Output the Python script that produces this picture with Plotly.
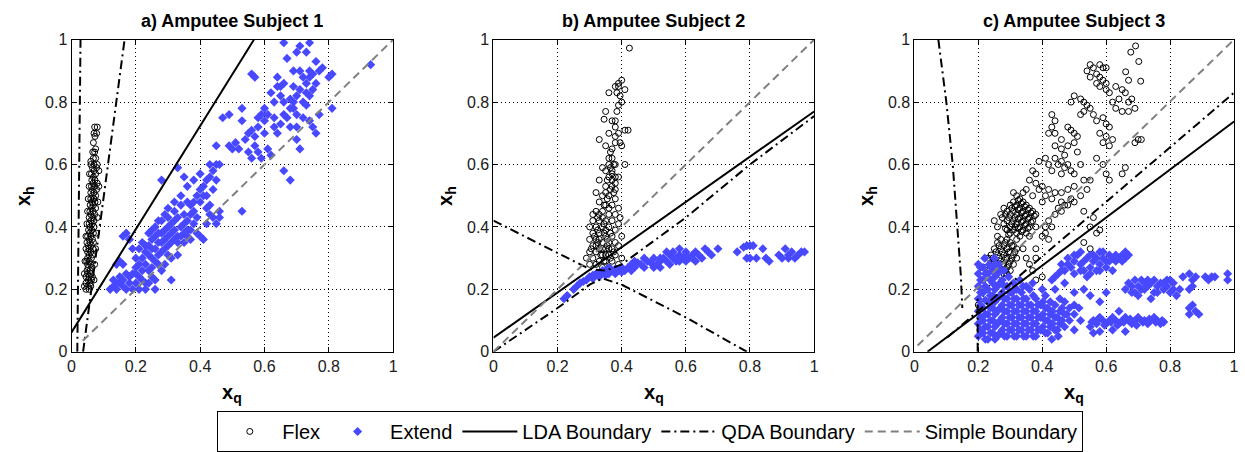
import plotly.graph_objects as go

# ------------------------------------------------------------------ data
titles = ["a) Amputee Subject 1", "b) Amputee Subject 2", "c) Amputee Subject 3"]
tick_vals = [0, 0.2, 0.4, 0.6, 0.8, 1]
tick_text = ["0", "0.2", "0.4", "0.6", "0.8", "1"]
series_names = ["Flex", "Extend", "LDA Boundary", "QDA Boundary", "Simple Boundary"]

# ---- subject 1
flex_a = [(0.045,0.20),(0.055,0.20),(0.05,0.21),(0.06,0.21),(0.045,0.22),(0.058,0.22),(0.052,0.23),(0.062,0.23),
          (0.045,0.24),(0.055,0.24),(0.065,0.24),(0.05,0.25),(0.06,0.25),(0.048,0.26),(0.058,0.26),(0.052,0.27),
          (0.064,0.27),(0.05,0.28),(0.06,0.28),(0.055,0.29),(0.047,0.29),(0.05,0.30),(0.062,0.30),(0.055,0.31),
          (0.065,0.31),(0.05,0.32),(0.06,0.32),(0.055,0.33),(0.067,0.33),(0.052,0.34),(0.062,0.34),(0.048,0.35),
          (0.058,0.35),(0.068,0.35),(0.055,0.36),(0.065,0.36),(0.05,0.37),(0.06,0.37),(0.056,0.38),(0.068,0.38),
          (0.053,0.39),(0.063,0.39),(0.058,0.40),(0.07,0.40),(0.055,0.41),(0.065,0.41),(0.06,0.42),(0.07,0.42),
          (0.055,0.43),(0.066,0.43),(0.06,0.44),(0.072,0.44),(0.057,0.45),(0.067,0.45),(0.062,0.46),(0.075,0.46),
          (0.058,0.47),(0.068,0.47),(0.063,0.48),(0.073,0.48),(0.06,0.49),(0.07,0.49),(0.065,0.50),(0.075,0.50),
          (0.06,0.51),(0.07,0.51),(0.065,0.52),(0.078,0.52),(0.062,0.53),(0.072,0.53),(0.067,0.54),(0.08,0.54),
          (0.063,0.55),(0.073,0.55),(0.068,0.56),(0.062,0.57),(0.075,0.57),(0.07,0.58),(0.065,0.59),(0.078,0.59),
          (0.07,0.60),(0.068,0.62),(0.075,0.62),(0.066,0.64),(0.072,0.64),(0.068,0.67),(0.073,0.69),(0.07,0.70),
          (0.078,0.70),(0.072,0.72),(0.08,0.72),
          (0.04,0.21),(0.04,0.25),(0.042,0.29),(0.045,0.33),(0.045,0.37),(0.048,0.41),(0.05,0.45),(0.052,0.49),
          (0.055,0.53),(0.056,0.57),(0.07,0.23),(0.072,0.28),(0.075,0.33),(0.077,0.38),(0.08,0.43),(0.082,0.48),
          (0.085,0.53),(0.085,0.58),(0.06,0.6),(0.08,0.6),(0.075,0.65),(0.06,0.61)]
extend_a = [(0.12,0.2),(0.13,0.21),(0.14,0.2),(0.15,0.22),(0.16,0.21),(0.17,0.2),(0.15,0.24),(0.13,0.23),(0.18,0.22),
            (0.17,0.25),(0.16,0.28),(0.19,0.25),(0.2,0.27),(0.21,0.24),(0.22,0.26),(0.2,0.3),(0.22,0.3),(0.23,0.28),
            (0.24,0.31),(0.21,0.33),(0.23,0.34),(0.25,0.3),(0.26,0.33),(0.25,0.36),(0.27,0.35),(0.28,0.32),(0.24,0.38),
            (0.26,0.4),(0.28,0.38),(0.29,0.36),(0.3,0.34),(0.3,0.4),(0.27,0.42),(0.31,0.38),(0.29,0.44),(0.32,0.42),
            (0.33,0.37),(0.34,0.4),(0.3,0.46),(0.32,0.48),(0.35,0.44),(0.36,0.42),(0.37,0.39),(0.34,0.5),(0.36,0.53),
            (0.37,0.47),(0.38,0.45),(0.39,0.5),(0.4,0.48),(0.41,0.53),(0.42,0.5),(0.43,0.56),(0.44,0.52),(0.4,0.57),
            (0.45,0.55),(0.46,0.6),(0.46,0.45),(0.45,0.41),(0.42,0.46),(0.4,0.37),(0.41,0.36),(0.35,0.56),(0.38,0.55),
            (0.33,0.59),(0.28,0.55),(0.17,0.38),(0.18,0.36),(0.16,0.37),(0.19,0.33),(0.14,0.28),(0.15,0.29),(0.23,0.22),
            (0.26,0.2),(0.26,0.23),(0.31,0.23),(0.28,0.26),(0.27,0.28),(0.31,0.3),(0.33,0.31),(0.35,0.35),(0.36,0.37),
            (0.23,0.2),(0.2,0.22),(0.21,0.2),(0.19,0.2),(0.38,0.41),(0.43,0.47),(0.44,0.43),(0.46,0.43),
            (0.2,0.25),(0.21,0.28),(0.22,0.23),(0.23,0.32),(0.24,0.26),(0.24,0.34),(0.25,0.27),(0.25,0.33),(0.26,0.29),
            (0.26,0.37),(0.27,0.31),(0.27,0.38),(0.28,0.35),(0.28,0.42),(0.29,0.33),(0.29,0.39),(0.3,0.37),(0.3,0.43),
            (0.31,0.35),(0.31,0.41),(0.32,0.39),(0.32,0.45),(0.33,0.35),(0.33,0.43),(0.34,0.37),(0.34,0.47),(0.35,0.41),
            (0.36,0.48),(0.37,0.44),(0.38,0.48),(0.39,0.43),(0.4,0.52),(0.41,0.5),(0.42,0.55),(0.44,0.58),(0.36,0.39),
            (0.22,0.35),(0.25,0.39),(0.18,0.24),(0.16,0.23),(0.14,0.22),(0.3,0.31),(0.29,0.28),(0.32,0.36),(0.35,0.38),
            (0.39,0.38),(0.43,0.44),(0.42,0.41),(0.37,0.36),(0.25,0.24),(0.24,0.22),
            (0.49,0.66),(0.51,0.67),(0.52,0.65),(0.53,0.45),(0.55,0.7),(0.56,0.71),(0.57,0.69),(0.55,0.64),(0.58,0.72),
            (0.59,0.76),(0.6,0.78),(0.61,0.65),(0.62,0.63),(0.63,0.72),(0.64,0.7),(0.62,0.83),(0.63,0.8),(0.64,0.85),
            (0.65,0.82),(0.66,0.8),(0.67,0.75),(0.68,0.72),(0.66,0.58),(0.68,0.55),(0.7,0.68),(0.71,0.65),(0.69,0.78),
            (0.7,0.76),(0.72,0.8),(0.73,0.79),(0.74,0.74),(0.75,0.72),(0.76,0.7),(0.72,0.88),(0.73,0.86),(0.74,0.9),
            (0.75,0.89),(0.76,0.93),(0.77,0.9),(0.78,0.91),(0.8,0.88),(0.81,0.89),(0.81,0.78),(0.77,0.76),(0.67,0.94),
            (0.66,0.99),(0.7,0.96),(0.71,0.98),(0.73,0.96),(0.74,0.99),(0.65,0.85),(0.56,0.89),(0.57,0.88),(0.53,0.78),
            (0.49,0.76),(0.47,0.75),(0.53,0.74),(0.69,0.9),(0.7,0.82),(0.71,0.84),(0.93,0.92),(0.6,0.7),(0.5,0.65),
            (0.58,0.64),(0.56,0.62),(0.59,0.62),(0.74,0.82),(0.74,0.88),(0.68,0.81),(0.69,0.8),(0.58,0.75),(0.45,0.66),
            (0.43,0.6),(0.45,0.6),
            (0.6,0.74),(0.61,0.76),(0.63,0.75),(0.65,0.73),(0.66,0.76),(0.68,0.78),(0.7,0.72),(0.72,0.75),(0.73,0.83),
            (0.75,0.84),(0.76,0.86),(0.64,0.88),(0.66,0.86),(0.69,0.85),(0.71,0.9),(0.57,0.66),(0.54,0.68)]
lda_a_x = [0.0, 0.567]
lda_a_y = [0.062, 1.0]
qda_a_x = [0.018, 0.028, None, 0.036, 0.165]
qda_a_y = [0.0, 1.0, None, 0.0, 1.0]
simple_a_x = [0.035, 1.0]
simple_a_y = [0.035, 1.0]

# ---- subject 2
flex_b = [(0.424,0.973),(0.4,0.87),(0.39,0.85),(0.38,0.85),(0.41,0.84),(0.36,0.83),(0.395,0.82),(0.4,0.8),(0.39,0.79),
          (0.35,0.77),(0.345,0.745),(0.37,0.74),(0.38,0.72),(0.41,0.71),(0.42,0.71),(0.39,0.7),(0.38,0.69),(0.33,0.68),
          (0.395,0.67),(0.4,0.66),(0.35,0.66),(0.365,0.64),(0.37,0.62),(0.36,0.6),(0.38,0.6),(0.41,0.6),(0.34,0.59),
          (0.35,0.58),(0.37,0.57),(0.36,0.56),(0.38,0.56),(0.33,0.55),(0.35,0.53),(0.37,0.53),(0.38,0.52),(0.32,0.51),
          (0.34,0.5),(0.36,0.5),(0.38,0.49),(0.33,0.48),(0.35,0.47),(0.37,0.47),(0.39,0.46),(0.31,0.44),(0.32,0.45),
          (0.34,0.45),(0.36,0.44),(0.38,0.44),(0.31,0.42),(0.33,0.42),(0.35,0.42),(0.37,0.42),(0.39,0.41),(0.3,0.4),
          (0.32,0.4),(0.34,0.4),(0.36,0.4),(0.38,0.39),(0.31,0.38),(0.33,0.38),(0.35,0.37),(0.37,0.37),(0.3,0.36),
          (0.32,0.36),(0.34,0.35),(0.36,0.35),(0.38,0.35),(0.31,0.34),(0.33,0.33),(0.35,0.33),(0.37,0.33),(0.3,0.32),
          (0.32,0.32),(0.34,0.31),(0.36,0.31),(0.38,0.31),(0.29,0.3),(0.31,0.3),(0.33,0.29),(0.35,0.29),(0.37,0.29),
          (0.3,0.28),(0.32,0.28),(0.34,0.27),(0.36,0.27),(0.39,0.28),(0.4,0.3),(0.39,0.34),(0.4,0.37),(0.395,0.43),
          (0.38,0.54),(0.39,0.56),(0.37,0.58),(0.36,0.62),(0.37,0.65),(0.38,0.67),(0.36,0.7),(0.38,0.74),(0.385,0.77),
          (0.385,0.83),(0.39,0.86),(0.37,0.55),(0.35,0.51),(0.33,0.44),(0.34,0.43),(0.36,0.46),(0.345,0.38),
          (0.355,0.36),(0.33,0.36),(0.35,0.39),(0.325,0.39),(0.345,0.41),(0.365,0.38),(0.34,0.33),(0.36,0.33),
          (0.32,0.34),(0.35,0.31),
          (0.315,0.37),(0.325,0.35),(0.335,0.31),(0.345,0.29),(0.355,0.34),(0.365,0.3),(0.375,0.32),(0.305,0.33),
          (0.325,0.43),(0.345,0.47),(0.355,0.49),(0.365,0.52),(0.375,0.51),(0.355,0.55),(0.365,0.59),(0.375,0.6)]
extend_b = [(0.22,0.17),(0.23,0.18),(0.25,0.2),(0.26,0.21),(0.27,0.22),(0.28,0.225),(0.29,0.23),(0.3,0.24),(0.31,0.245),
            (0.32,0.25),(0.33,0.25),(0.34,0.26),(0.35,0.26),(0.36,0.25),(0.37,0.26),(0.38,0.265),(0.4,0.27),(0.42,0.27),
            (0.41,0.26),(0.43,0.28),(0.44,0.27),(0.45,0.285),(0.46,0.28),(0.47,0.27),(0.48,0.29),(0.49,0.285),(0.5,0.3),
            (0.51,0.28),(0.52,0.29),(0.53,0.3),(0.54,0.29),(0.55,0.31),(0.56,0.3),(0.57,0.29),(0.58,0.31),(0.59,0.3),
            (0.6,0.32),(0.61,0.3),(0.62,0.31),(0.63,0.32),(0.64,0.31),(0.66,0.33),(0.67,0.32),(0.7,0.33),(0.5,0.27),
            (0.52,0.27),(0.55,0.28),(0.58,0.29),(0.6,0.29),(0.56,0.32),(0.6,0.31),(0.62,0.3),(0.65,0.3),(0.47,0.3),
            (0.43,0.26),(0.39,0.26),(0.36,0.27),(0.31,0.235),(0.33,0.24),(0.35,0.245),(0.38,0.25),(0.4,0.255),(0.44,0.29),
            (0.52,0.3),(0.54,0.32),(0.58,0.33),(0.57,0.3),(0.63,0.29),(0.68,0.31),
            (0.76,0.32),(0.78,0.335),(0.79,0.34),(0.8,0.34),(0.81,0.34),(0.82,0.3),(0.79,0.3),(0.84,0.33),(0.85,0.3),
            (0.86,0.29),(0.9,0.3),(0.91,0.33),(0.92,0.31),(0.93,0.32),(0.94,0.3),(0.95,0.31),(0.96,0.32),(0.97,0.32),
            (0.89,0.31),(0.92,0.3),(0.8,0.3)]
lda_b_x = [0.0, 1.0]
lda_b_y = [0.045, 0.77]
qda_b_x = [0.0, 0.2, 0.3, 0.34, 0.4, 0.6, 0.79, None, 0.0, 0.2, 0.3, 0.35, 0.4, 0.6, 0.8, 1.0]
qda_b_y = [0.0, 0.14, 0.215, 0.235, 0.215, 0.11, 0.0, None, 0.42, 0.315, 0.265, 0.26, 0.28, 0.43, 0.6, 0.755]
simple_b_x = [0.0, 1.0]
simple_b_y = [0.0, 1.0]

# ---- subject 3
flex_c = [(0.692,0.98),(0.677,0.96),(0.702,0.93),(0.708,0.867),(0.661,0.897),(0.67,0.87),
          (0.55,0.92),(0.56,0.91),(0.58,0.92),(0.59,0.91),(0.6,0.91),(0.57,0.89),(0.58,0.88),(0.59,0.87),(0.6,0.86),
          (0.54,0.9),(0.55,0.88),(0.57,0.86),(0.58,0.85),(0.6,0.84),
          (0.5,0.82),(0.52,0.81),(0.53,0.8),(0.54,0.79),(0.53,0.77),(0.55,0.78),(0.56,0.76),(0.52,0.76),(0.49,0.8),
          (0.63,0.85),(0.65,0.84),(0.66,0.83),(0.64,0.81),(0.67,0.8),(0.68,0.81),(0.62,0.8),(0.63,0.78),(0.65,0.77),
          (0.67,0.77),(0.61,0.83),(0.69,0.78),
          (0.59,0.75),(0.6,0.73),(0.61,0.72),(0.58,0.7),(0.6,0.69),(0.62,0.68),(0.59,0.67),(0.61,0.66),(0.57,0.74),
          (0.7,0.68),(0.71,0.68),(0.69,0.67),
          (0.43,0.76),(0.44,0.74),(0.43,0.72),(0.44,0.7),(0.46,0.68),(0.48,0.72),(0.49,0.71),(0.5,0.7),(0.51,0.69),
          (0.5,0.67),(0.46,0.65),(0.48,0.66),(0.47,0.63),(0.51,0.64),(0.44,0.66),(0.42,0.7),
          (0.39,0.61),(0.41,0.62),(0.42,0.6),(0.44,0.62),(0.45,0.6),(0.46,0.61),(0.47,0.59),(0.48,0.6),(0.49,0.58),
          (0.5,0.57),(0.46,0.57),(0.43,0.58),(0.52,0.6),(0.53,0.55),
          (0.37,0.58),(0.38,0.57),(0.36,0.55),(0.38,0.54),(0.39,0.52),(0.4,0.53),(0.41,0.5),(0.42,0.52),(0.35,0.52),
          (0.37,0.5),(0.4,0.48),(0.43,0.49),(0.44,0.51),(0.46,0.51),(0.48,0.52),(0.49,0.49),(0.5,0.48),
          (0.27,0.44),(0.28,0.46),(0.29,0.45),(0.29,0.42),(0.3,0.47),(0.3,0.44),(0.3,0.4),(0.31,0.48),(0.31,0.45),
          (0.31,0.42),(0.31,0.39),(0.32,0.5),(0.32,0.47),(0.32,0.44),(0.32,0.41),(0.33,0.49),(0.33,0.46),(0.33,0.43),
          (0.33,0.4),(0.34,0.48),(0.34,0.45),(0.34,0.42),(0.34,0.39),(0.35,0.47),(0.35,0.44),(0.35,0.41),(0.36,0.46),
          (0.36,0.43),(0.36,0.4),(0.37,0.45),(0.37,0.42),(0.28,0.41),(0.29,0.39),(0.3,0.38),(0.32,0.38),(0.26,0.4),
          (0.25,0.42),(0.35,0.38),(0.36,0.37),(0.33,0.37),(0.38,0.44),(0.38,0.4),(0.31,0.51),(0.34,0.51),
          (0.275,0.43),(0.285,0.44),(0.295,0.43),(0.305,0.46),(0.305,0.41),(0.315,0.465),(0.315,0.43),(0.315,0.4),
          (0.325,0.485),(0.325,0.455),(0.325,0.425),(0.325,0.395),(0.335,0.475),(0.335,0.445),(0.335,0.415),
          (0.335,0.385),(0.345,0.465),(0.345,0.435),(0.345,0.405),(0.355,0.455),(0.355,0.425),(0.355,0.395),
          (0.365,0.445),(0.365,0.415),(0.375,0.435),(0.285,0.395),(0.295,0.375),
          (0.24,0.31),(0.25,0.33),(0.25,0.29),(0.26,0.35),(0.26,0.31),(0.26,0.27),(0.27,0.36),(0.27,0.33),(0.27,0.29),
          (0.27,0.26),(0.28,0.34),(0.28,0.31),(0.28,0.28),(0.29,0.36),(0.29,0.33),(0.29,0.3),(0.29,0.27),(0.3,0.35),
          (0.3,0.32),(0.3,0.29),(0.31,0.34),(0.31,0.31),(0.31,0.28),(0.32,0.33),(0.32,0.3),(0.28,0.25),(0.3,0.26),
          (0.24,0.28),(0.23,0.3),(0.22,0.27),(0.26,0.37),(0.32,0.36),
          (0.245,0.3),(0.255,0.32),(0.255,0.27),(0.265,0.34),(0.265,0.3),(0.275,0.32),(0.275,0.28),(0.285,0.35),
          (0.285,0.3),(0.285,0.26),(0.295,0.32),(0.295,0.28),(0.305,0.34),(0.305,0.3),(0.315,0.32),(0.27,0.245),
          (0.29,0.25),
          (0.34,0.33),(0.35,0.3),(0.36,0.28),(0.37,0.26),(0.38,0.3),(0.38,0.23),(0.4,0.24),(0.38,0.33),(0.4,0.37),
          (0.41,0.38),(0.42,0.36),(0.41,0.4),(0.42,0.42),(0.44,0.44),(0.43,0.4),(0.45,0.46),(0.46,0.45),(0.47,0.47),
          (0.48,0.47),(0.52,0.5),(0.54,0.52),(0.55,0.55),(0.56,0.43),(0.57,0.38),(0.58,0.39),(0.55,0.4),(0.53,0.35),
          (0.55,0.33),(0.6,0.57),(0.61,0.55),(0.65,0.57),(0.66,0.59),(0.59,0.6),(0.57,0.62),(0.53,0.45),(0.5,0.53),
          (0.46,0.48),(0.2,0.15),(0.21,0.17),(0.22,0.2),(0.21,0.23),(0.23,0.22)]
extend_c = [(0.2,0.05),(0.2,0.09),(0.2,0.13),(0.2,0.17),(0.2,0.21),(0.2,0.25),(0.2,0.28),
            (0.215,0.06),(0.215,0.1),(0.215,0.14),(0.215,0.19),(0.215,0.23),(0.215,0.27),(0.22,0.3),
            (0.23,0.04),(0.23,0.08),(0.23,0.12),(0.23,0.16),(0.23,0.2),(0.23,0.25),(0.235,0.28),
            (0.245,0.06),(0.245,0.1),(0.245,0.14),(0.245,0.18),(0.245,0.22),(0.245,0.26),(0.25,0.3),
            (0.26,0.05),(0.26,0.09),(0.26,0.13),(0.26,0.17),(0.26,0.21),(0.26,0.25),(0.265,0.28),
            (0.275,0.07),(0.275,0.11),(0.275,0.15),(0.275,0.19),(0.275,0.23),(0.28,0.26),
            (0.29,0.05),(0.29,0.09),(0.29,0.13),(0.29,0.17),(0.29,0.21),(0.295,0.24),
            (0.305,0.07),(0.305,0.11),(0.305,0.15),(0.305,0.19),
            (0.207,0.07),(0.207,0.11),(0.207,0.15),(0.207,0.19),(0.207,0.23),(0.207,0.27),(0.222,0.04),(0.222,0.08),
            (0.222,0.12),(0.222,0.165),(0.222,0.21),(0.222,0.25),(0.238,0.06),(0.238,0.1),(0.238,0.14),(0.238,0.18),
            (0.238,0.23),(0.24,0.27),(0.252,0.04),(0.252,0.08),(0.252,0.12),(0.252,0.16),(0.252,0.2),(0.252,0.24),
            (0.255,0.28),(0.268,0.06),(0.268,0.1),(0.268,0.14),(0.268,0.18),(0.268,0.22),(0.27,0.26),(0.282,0.05),
            (0.282,0.09),(0.282,0.13),(0.282,0.17),(0.282,0.21),(0.298,0.07),(0.298,0.11),(0.298,0.15),(0.298,0.19),
            (0.312,0.05),(0.312,0.09),(0.312,0.13),(0.312,0.17),(0.327,0.07),(0.327,0.11),(0.327,0.15),(0.342,0.05),
            (0.342,0.09),(0.342,0.13),(0.342,0.17),(0.357,0.07),(0.357,0.11),(0.357,0.15),(0.372,0.05),(0.372,0.09),
            (0.372,0.13),(0.372,0.18),(0.387,0.07),(0.387,0.11),(0.387,0.15),(0.402,0.08),(0.402,0.12),(0.402,0.16),
            (0.417,0.06),(0.417,0.1),(0.417,0.14),(0.432,0.09),(0.432,0.13),(0.447,0.07),(0.447,0.11),(0.462,0.1),
            (0.462,0.14),(0.477,0.12),(0.31,0.22),(0.32,0.2),(0.35,0.21),
            (0.32,0.05),(0.32,0.09),(0.32,0.13),(0.32,0.17),(0.335,0.07),(0.335,0.11),(0.335,0.15),(0.335,0.19),
            (0.35,0.05),(0.35,0.09),(0.35,0.13),(0.35,0.17),(0.365,0.07),(0.365,0.11),(0.365,0.15),(0.38,0.05),
            (0.38,0.09),(0.38,0.13),(0.38,0.17),(0.395,0.07),(0.395,0.11),(0.395,0.15),(0.41,0.06),(0.41,0.1),
            (0.41,0.14),(0.41,0.18),(0.425,0.08),(0.425,0.12),(0.425,0.16),(0.44,0.07),(0.44,0.11),(0.44,0.15),
            (0.455,0.09),(0.455,0.13),(0.455,0.17),(0.47,0.08),(0.47,0.12),(0.47,0.16),(0.485,0.1),(0.485,0.14),
            (0.5,0.12),(0.5,0.15),(0.515,0.14),(0.34,0.21),(0.36,0.2),(0.4,0.2),(0.37,0.22),(0.33,0.23),(0.45,0.05),
            (0.5,0.07),(0.52,0.1),(0.43,0.04),
            (0.43,0.23),(0.45,0.25),(0.46,0.28),(0.47,0.26),(0.48,0.3),(0.49,0.27),(0.5,0.29),(0.5,0.25),(0.51,0.31),
            (0.52,0.28),(0.53,0.26),(0.54,0.3),(0.55,0.31),(0.55,0.27),(0.56,0.29),(0.57,0.3),(0.58,0.28),(0.59,0.3),
            (0.6,0.29),(0.61,0.31),(0.62,0.3),(0.63,0.29),(0.64,0.3),(0.65,0.31),(0.66,0.32),(0.67,0.31),(0.57,0.26),
            (0.6,0.27),(0.62,0.26),(0.54,0.24),(0.47,0.22),(0.52,0.32),(0.58,0.32),
            (0.44,0.24),(0.46,0.26),(0.48,0.28),(0.5,0.31),(0.53,0.29),(0.56,0.31),(0.59,0.32),(0.61,0.29),(0.63,0.31),
            (0.65,0.29),(0.66,0.3),(0.52,0.26),(0.55,0.25),(0.58,0.26),
            (0.66,0.2),(0.67,0.22),(0.68,0.21),(0.69,0.19),(0.7,0.21),(0.71,0.23),(0.72,0.22),(0.72,0.2),(0.73,0.21),
            (0.74,0.22),(0.75,0.19),(0.75,0.23),(0.76,0.21),(0.77,0.22),(0.78,0.2),(0.79,0.21),(0.8,0.19),(0.8,0.23),
            (0.81,0.2),(0.82,0.18),(0.74,0.17),(0.69,0.23),(0.83,0.2),
            (0.68,0.19),(0.71,0.2),(0.73,0.23),(0.76,0.19),(0.78,0.22),(0.7,0.18),(0.79,0.23),(0.81,0.22),
            (0.84,0.24),(0.86,0.25),(0.87,0.23),(0.88,0.24),(0.91,0.24),(0.92,0.23),(0.93,0.24),(0.94,0.24),(0.98,0.25),
            (0.98,0.23),(0.86,0.2),(0.87,0.21),
            (0.55,0.08),(0.56,0.1),(0.57,0.09),(0.58,0.11),(0.59,0.1),(0.6,0.09),(0.61,0.1),(0.62,0.11),(0.63,0.1),
            (0.64,0.09),(0.65,0.1),(0.66,0.11),(0.67,0.1),(0.68,0.09),(0.69,0.1),(0.7,0.11),(0.71,0.1),(0.72,0.1),
            (0.73,0.09),(0.74,0.1),(0.75,0.11),(0.76,0.1),(0.77,0.09),(0.78,0.095),(0.64,0.13),(0.56,0.06),(0.58,0.065),
            (0.555,0.095),(0.575,0.105),(0.595,0.085),(0.615,0.095),(0.635,0.085),(0.655,0.095),(0.675,0.105),
            (0.695,0.085),(0.715,0.095),(0.735,0.105),(0.755,0.095),(0.775,0.1),(0.62,0.07),(0.66,0.065),
            (0.86,0.14),(0.87,0.15),(0.88,0.13),(0.89,0.12),(0.86,0.12),
            (0.53,0.2),(0.55,0.18),(0.58,0.16),(0.44,0.2),(0.6,0.19),(0.5,0.19)]
lda_c_x = [0.041, 1.0]
lda_c_y = [0.0, 0.738]
qda_c_x = [0.075, 0.1, 0.12, 0.135, 0.145, 0.15, None, 0.103, 1.0, None, 0.198, 0.198]
qda_c_y = [1.0, 0.8, 0.6, 0.4, 0.25, 0.14, None, 0.046, 0.83, None, 0.0, 0.17]
simple_c_x = [0.01, 1.0]
simple_c_y = [0.02, 1.0]

flex_sets = [flex_a, flex_b, flex_c]
extend_sets = [extend_a, extend_b, extend_c]
lda_sets = [(lda_a_x, lda_a_y), (lda_b_x, lda_b_y), (lda_c_x, lda_c_y)]
qda_sets = [(qda_a_x, qda_a_y), (qda_b_x, qda_b_y), (qda_c_x, qda_c_y)]
simple_sets = [(simple_a_x, simple_a_y), (simple_b_x, simple_b_y), (simple_c_x, simple_c_y)]

# ------------------------------------------------------------------ layout constants
W, H = 1245, 452
x_px = [(68, 392), (493, 816), (917, 1239)]
y_px = (33, 358)  # top, bottom
FONT = "Liberation Sans, Arial, sans-serif"
BLUE = "#4848FF"

fig = go.Figure()

for i in range(3):
    sfx = "" if i == 0 else str(i + 1)
    xa, ya = "x" + sfx, "y" + sfx
    show = (i == 0)
    fx = [p[0] for p in flex_sets[i]]
    fy = [p[1] for p in flex_sets[i]]
    ex = [p[0] for p in extend_sets[i]]
    ey = [p[1] for p in extend_sets[i]]
    fig.add_trace(go.Scatter(x=fx, y=fy, mode="markers", name=series_names[0], legendgroup="f",
                             showlegend=show, xaxis=xa, yaxis=ya,
                             marker=dict(symbol="circle-open", size=6, color="black", line=dict(width=1))))
    fig.add_trace(go.Scatter(x=ex, y=ey, mode="markers", name=series_names[1], legendgroup="e",
                             showlegend=show, xaxis=xa, yaxis=ya,
                             marker=dict(symbol="diamond", size=7, color=BLUE, line=dict(width=0))))
    fig.add_trace(go.Scatter(x=lda_sets[i][0], y=lda_sets[i][1], mode="lines", name=series_names[2],
                             legendgroup="l", showlegend=show, xaxis=xa, yaxis=ya,
                             line=dict(color="black", width=2)))
    fig.add_trace(go.Scatter(x=qda_sets[i][0], y=qda_sets[i][1], mode="lines", name=series_names[3],
                             legendgroup="q", showlegend=show, xaxis=xa, yaxis=ya,
                             line=dict(color="black", width=2, dash="9px,4px,2px,4px")))
    fig.add_trace(go.Scatter(x=simple_sets[i][0], y=simple_sets[i][1], mode="lines", name=series_names[4],
                             legendgroup="s", showlegend=show, xaxis=xa, yaxis=ya,
                             line=dict(color="#808080", width=2, dash="8px,5px")))

    ax_common = dict(range=[0, 1], tickvals=tick_vals, ticktext=tick_text, showgrid=True,
                     gridcolor="black", gridwidth=1, griddash="1px,3px", zeroline=False,
                     showline=True, linecolor="black", linewidth=1, mirror="allticks",
                     ticks="inside", ticklen=5, tickcolor="black",
                     tickfont=dict(family=FONT, size=16, color="#202020"))
    fig.layout["xaxis" + sfx] = dict(ax_common, domain=[x_px[i][0] / W, x_px[i][1] / W], anchor=ya)
    fig.layout["yaxis" + sfx] = dict(ax_common, domain=[1 - y_px[1] / H, 1 - y_px[0] / H], anchor=xa)

    cx = (x_px[i][0] + x_px[i][1]) / 2
    fig.add_annotation(text="<b>" + titles[i] + "</b>", x=cx / W, y=1 - 14 / H, xref="paper", yref="paper",
                       xanchor="center", yanchor="middle", showarrow=False,
                       font=dict(family=FONT, size=18, color="black"))
    fig.add_annotation(text="<b>x</b><sub><b>q</b></sub>", x=cx / W, y=1 - 402 / H, xref="paper", yref="paper",
                       xanchor="center", yanchor="middle", showarrow=False,
                       font=dict(family=FONT, size=20, color="black"))
    fig.add_annotation(text="<b>x</b><sub><b>h</b></sub>", x=(x_px[i][0] - 48) / W, y=1 - 196 / H,
                       xref="paper", yref="paper", xanchor="center", yanchor="middle", textangle=-90,
                       showarrow=False, font=dict(family=FONT, size=20, color="black"))

fig.update_layout(
    width=W, height=H, margin=dict(l=0, r=0, t=0, b=0),
    paper_bgcolor="white", plot_bgcolor="white",
    font=dict(family=FONT, color="black"),
    legend=dict(orientation="h", x=651 / W, y=1 - 441 / H, xanchor="center", yanchor="middle",
                bordercolor="black", borderwidth=1, bgcolor="white",
                font=dict(family=FONT, size=20, color="black"), itemwidth=55,
                itemclick=False, itemdoubleclick=False),
)

fig.write_html("out.html")
